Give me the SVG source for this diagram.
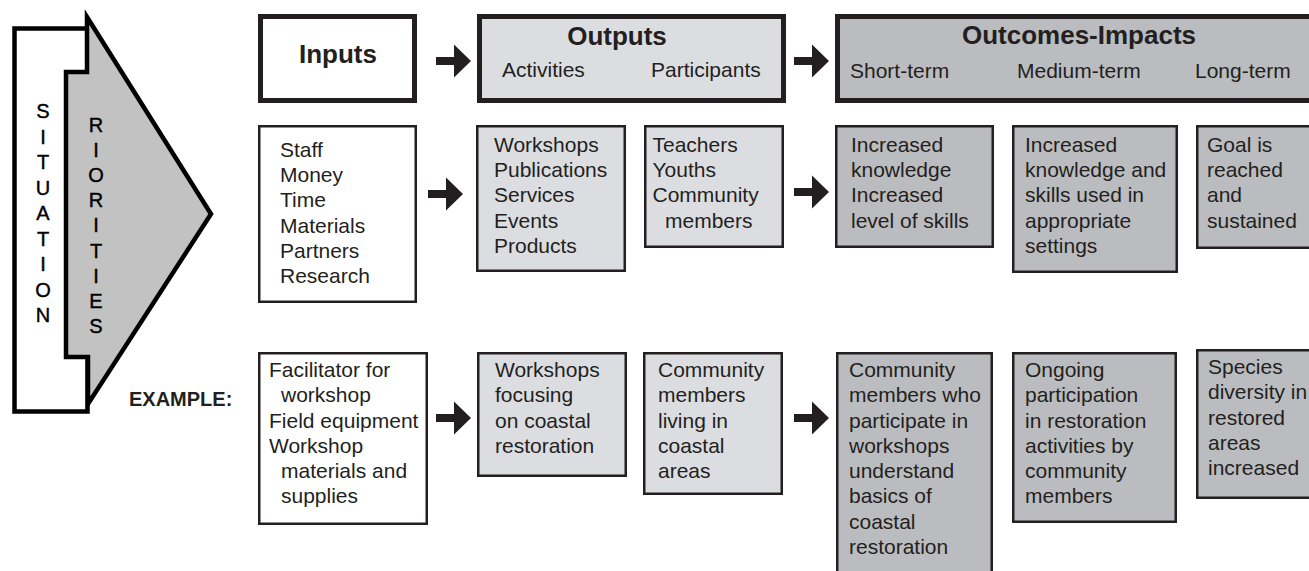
<svg xmlns="http://www.w3.org/2000/svg" width="1309" height="571" viewBox="0 0 1309 571">
<defs>
<style>
.t{font-family:"Liberation Sans",Arial,sans-serif;font-size:21px;fill:#231f20}
.h{font-family:"Liberation Sans",Arial,sans-serif;font-size:26px;font-weight:bold;fill:#231f20}
.v{font-family:"Liberation Sans",Arial,sans-serif;font-size:20px;fill:#000;text-anchor:middle;stroke:#000;stroke-width:0.4}
.hb{stroke:#231f20;stroke-width:5}
.b{stroke:#231f20;stroke-width:2.5}
.w{fill:#fff}
.l{fill:#dcdde0}
.d{fill:#bbbcbf}
.arr{fill:#231f20}
</style>
<path id="ar" d="M0,-4 H18 V-16.5 L35,0 L18,16.5 V4 H0 Z"/>
</defs>
<rect width="1309" height="571" fill="#fff"/>

<g id="situation">
<rect x="14.5" y="28.5" width="73" height="383" fill="#fff" stroke="#000" stroke-width="4.5"/>
<g class="v">
<text x="43" y="118">S</text>
<text x="43" y="143.5">I</text>
<text x="43" y="169">T</text>
<text x="43" y="194.5">U</text>
<text x="43" y="220">A</text>
<text x="43" y="245.5">T</text>
<text x="43" y="271">I</text>
<text x="43" y="296.5">O</text>
<text x="43" y="322">N</text>
</g>
</g>
<g id="priorities">
<path d="M87,17 L211,214 L88,404 L88,357 L66,357 L66,72 L87,72 Z" fill="#c2c2c2" stroke="#000" stroke-width="4.5" stroke-linejoin="miter"/>
<g class="v">
<text x="96" y="132">R</text>
<text x="96" y="157">I</text>
<text x="96" y="182">O</text>
<text x="96" y="207">R</text>
<text x="96" y="232">I</text>
<text x="96" y="258">T</text>
<text x="96" y="283">I</text>
<text x="96" y="308">E</text>
<text x="96" y="333">S</text>
</g>
</g>

<g id="inputs-header">
<rect class="hb w" x="260.5" y="16.5" width="154" height="84"/>
<text class="h" x="338" y="63" text-anchor="middle">Inputs</text>
</g>
<g id="outputs-header">
<rect class="hb l" x="479.5" y="16.5" width="304" height="84"/>
<text class="h" x="617" y="45" text-anchor="middle">Outputs</text>
<text class="t" x="502" y="77">Activities</text>
<text class="t" x="651" y="77">Participants</text>
</g>
<g id="outcomes-header">
<rect class="hb d" x="837.5" y="16.5" width="480" height="84"/>
<text class="h" x="1079" y="44" text-anchor="middle">Outcomes-Impacts</text>
<text class="t" x="850" y="78">Short-term</text>
<text class="t" x="1017" y="78">Medium-term</text>
<text class="t" x="1195" y="78">Long-term</text>
</g>

<g id="inputs-list">
<rect class="b w" x="259.25" y="126.25" width="156.5" height="175.5"/>
<text class="t" x="280" y="157">Staff</text>
<text class="t" x="280" y="182">Money</text>
<text class="t" x="280" y="207">Time</text>
<text class="t" x="280" y="233">Materials</text>
<text class="t" x="280" y="258">Partners</text>
<text class="t" x="280" y="283">Research</text>
</g>
<g id="activities-list">
<rect class="b l" x="477.25" y="126.25" width="147.5" height="144.5"/>
<text class="t" x="494" y="152">Workshops</text>
<text class="t" x="494" y="177">Publications</text>
<text class="t" x="494" y="202">Services</text>
<text class="t" x="494" y="228">Events</text>
<text class="t" x="494" y="253">Products</text>
</g>
<g id="participants-list">
<rect class="b l" x="645.25" y="126.25" width="137.5" height="120.5"/>
<text class="t" x="652.5" y="152">Teachers</text>
<text class="t" x="652.5" y="177">Youths</text>
<text class="t" x="652.5" y="202">Community</text>
<text class="t" x="665" y="228">members</text>
</g>
<g id="short-term">
<rect class="b d" x="836.25" y="126.25" width="156.5" height="120.5"/>
<text class="t" x="851" y="152">Increased</text>
<text class="t" x="851" y="177">knowledge</text>
<text class="t" x="851" y="202">Increased</text>
<text class="t" x="851" y="228">level of skills</text>
</g>
<g id="medium-term">
<rect class="b d" x="1013.25" y="126.25" width="163.5" height="145.5"/>
<text class="t" x="1025" y="152">Increased</text>
<text class="t" x="1025" y="177">knowledge and</text>
<text class="t" x="1025" y="202">skills used in</text>
<text class="t" x="1025" y="228">appropriate</text>
<text class="t" x="1025" y="253">settings</text>
</g>
<g id="long-term">
<rect class="b d" x="1197.25" y="126.25" width="130" height="121.5"/>
<text class="t" x="1207" y="152">Goal is</text>
<text class="t" x="1207" y="177">reached</text>
<text class="t" x="1207" y="202">and</text>
<text class="t" x="1207" y="228">sustained</text>
</g>

<g id="example-label">
<text x="129" y="406" style="font-family:'Liberation Sans',Arial,sans-serif;font-size:20px;font-weight:bold;fill:#231f20">EXAMPLE:</text>
</g>
<g id="ex-inputs">
<rect class="b w" x="259.25" y="353.25" width="167.5" height="170.5"/>
<text class="t" x="269" y="377">Facilitator for</text>
<text class="t" x="281" y="402">workshop</text>
<text class="t" x="269" y="428">Field equipment</text>
<text class="t" x="269" y="453">Workshop</text>
<text class="t" x="281" y="478">materials and</text>
<text class="t" x="281" y="503">supplies</text>
</g>
<g id="ex-activities">
<rect class="b l" x="478.25" y="353.25" width="147.5" height="122.5"/>
<text class="t" x="495" y="377">Workshops</text>
<text class="t" x="495" y="402">focusing</text>
<text class="t" x="495" y="428">on coastal</text>
<text class="t" x="495" y="453">restoration</text>
</g>
<g id="ex-participants">
<rect class="b l" x="644.25" y="353.25" width="137.5" height="140.5"/>
<text class="t" x="658" y="377">Community</text>
<text class="t" x="658" y="402">members</text>
<text class="t" x="658" y="428">living in</text>
<text class="t" x="658" y="453">coastal</text>
<text class="t" x="658" y="478">areas</text>
</g>
<g id="ex-short">
<rect class="b d" x="837.25" y="353.25" width="154.5" height="240"/>
<text class="t" x="849" y="377">Community</text>
<text class="t" x="849" y="402">members who</text>
<text class="t" x="849" y="428">participate in</text>
<text class="t" x="849" y="453">workshops</text>
<text class="t" x="849" y="478">understand</text>
<text class="t" x="849" y="503">basics of</text>
<text class="t" x="849" y="529">coastal</text>
<text class="t" x="849" y="554">restoration</text>
</g>
<g id="ex-medium">
<rect class="b d" x="1013.25" y="353.25" width="162.5" height="168.5"/>
<text class="t" x="1025" y="377">Ongoing</text>
<text class="t" x="1025" y="402">participation</text>
<text class="t" x="1025" y="428">in restoration</text>
<text class="t" x="1025" y="453">activities by</text>
<text class="t" x="1025" y="478">community</text>
<text class="t" x="1025" y="503">members</text>
</g>
<g id="ex-long">
<rect class="b d" x="1197.25" y="350.25" width="130" height="147.5"/>
<text class="t" x="1208" y="374">Species</text>
<text class="t" x="1208" y="399">diversity in</text>
<text class="t" x="1208" y="425">restored</text>
<text class="t" x="1208" y="450">areas</text>
<text class="t" x="1208" y="475">increased</text>
</g>

<g id="connectors" class="arr">
<use href="#ar" x="436" y="61"/>
<use href="#ar" x="794" y="61"/>
<use href="#ar" x="428" y="194"/>
<use href="#ar" x="794" y="192"/>
<use href="#ar" x="436" y="418"/>
<use href="#ar" x="794" y="418"/>
</g>
</svg>
